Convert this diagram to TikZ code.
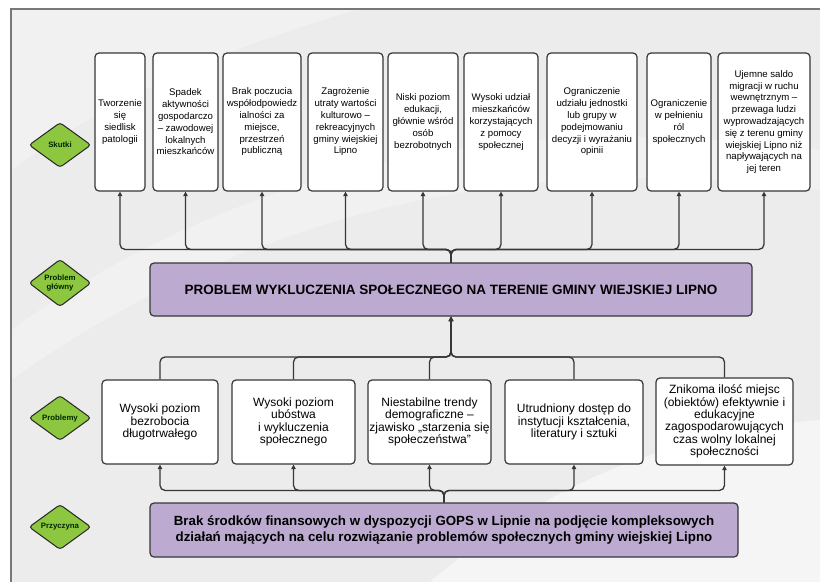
\documentclass[tikz,border=0pt]{standalone}
\usepackage{fontspec}
\setmainfont{Liberation Sans}
\usetikzlibrary{shapes.geometric,arrows.meta}
\definecolor{lilac}{RGB}{188,170,208}
\definecolor{leaf}{RGB}{141,198,63}
\definecolor{edgegray}{RGB}{55,55,55}
\definecolor{bggray}{RGB}{236,236,236}
\definecolor{framegray}{RGB}{120,120,120}
\begin{document}
\begin{tikzpicture}[x=1pt,y=-1pt,
  effect/.style={draw=edgegray,fill=white,line width=1.2pt,rounded corners=4pt,inner sep=0pt,
    minimum height=138pt,align=center,font=\fontsize{9.6}{11.8}\selectfont},
  problembox/.style={effect,minimum height=84pt,font=\fontsize{12}{12.3}\selectfont},
  mainbox/.style={draw=edgegray,fill=lilac,line width=1.2pt,rounded corners=4pt,inner sep=0pt,
    align=center,font=\bfseries\fontsize{13.5}{15.5}\selectfont},
  levelmark/.style={diamond,draw=black!85,fill=leaf,line width=1pt,rounded corners=3pt,inner sep=0pt,
    minimum width=62pt,minimum height=45pt,align=center,text=black!85!green,
    font=\bfseries\fontsize{7.8}{8.8}\selectfont},
  conn/.style={draw=edgegray,line width=1.3pt,rounded corners=5pt,-{Triangle[length=4.5pt,width=4.5pt]}}
]
\useasboundingbox (0,0) rectangle (820,582);
% background and frame
\fill[bggray] (11,9) rectangle (820,582);
\fill[white,opacity=.3] (11,330) .. controls (250,160) and (520,110) .. (820,150) -- (820,190) .. controls (520,150) and (250,210) .. (11,380) -- cycle;
\fill[white,opacity=.5] (430,582) .. controls (560,470) and (700,430) .. (820,420) -- (820,582) -- cycle;
\fill[white,opacity=.3] (11,9) -- (360,9) .. controls (250,40) and (120,90) .. (11,170) -- cycle;
\draw[framegray,line width=2pt] (820,9) -- (11,9) -- (11,582);

% level marks
\node[levelmark] (tagS) at (60,145) {Skutki};
\node[levelmark] (tagM) at (60,283) {Problem\\główny};
\node[levelmark] (tagP) at (60,418) {Problemy};
\node[levelmark] (tagC) at (60,527) {Przyczyna};

% skutki
\node[effect,minimum width=50pt] (s1) at (120,122) {Tworzenie\\się\\siedlisk\\patologii};
\node[effect,minimum width=65pt] (s2) at (185.5,122) {Spadek\\aktywności\\gospodarczo\\– zawodowej\\lokalnych\\mieszkańców};
\node[effect,minimum width=78pt] (s3) at (262,122) {Brak poczucia\\współodpowiedz\\ialności za\\miejsce,\\przestrzeń\\publiczną};
\node[effect,minimum width=75pt] (s4) at (345.5,122) {Zagrożenie\\utraty wartości\\kulturowo –\\rekreacyjnych\\gminy wiejskiej\\Lipno};
\node[effect,minimum width=70pt] (s5) at (423,122) {Niski poziom\\edukacji,\\głównie wśród\\osób\\bezrobotnych};
\node[effect,minimum width=74pt] (s6) at (501,122) {Wysoki udział\\mieszkańców\\korzystających\\z pomocy\\społecznej};
\node[effect,minimum width=90pt] (s7) at (592,122) {Ograniczenie\\udziału jednostki\\lub grupy w\\podejmowaniu\\decyzji i wyrażaniu\\opinii};
\node[effect,minimum width=64pt] (s8) at (679,122) {Ograniczenie\\w pełnieniu\\ról\\społecznych};
\node[effect,minimum width=92pt] (s9) at (764,122) {Ujemne saldo\\migracji w ruchu\\wewnętrznym –\\przewaga ludzi\\wyprowadzających\\się z terenu gminy\\wiejskiej Lipno niż\\napływających na\\jej teren};

% problem glowny
\node[mainbox,minimum width=602pt,minimum height=53pt] (main) at (451,289.5) {PROBLEM WYKLUCZENIA SPOŁECZNEGO NA TERENIE GMINY WIEJSKIEJ LIPNO};

% problemy
\node[problembox,minimum width=116pt] (p1) at (160,422) {Wysoki poziom\\bezrobocia\\długotrwałego};
\node[problembox,minimum width=123pt] (p2) at (293.5,422) {Wysoki poziom\\ubóstwa\\i wykluczenia\\społecznego};
\node[problembox,minimum width=123pt] (p3) at (429.5,422) {Niestabilne trendy\\demograficzne –\\zjawisko „starzenia się\\społeczeństwa”};
\node[problembox,minimum width=138pt] (p4) at (574,422) {Utrudniony dostęp do\\instytucji kształcenia,\\literatury i sztuki};
\node[problembox,minimum width=137pt,minimum height=87pt] (p5) at (724.5,421.5) {Znikoma ilość miejsc\\(obiektów) efektywnie i\\edukacyjne\\zagospodarowujących\\czas wolny lokalnej\\społeczności};

% przyczyna
\node[mainbox,minimum width=588pt,minimum height=54pt,font=\bfseries\fontsize{13.3}{15.5}\selectfont] (cause) at (444,530) {Brak środków finansowych w dyspozycji GOPS w Lipnie na podjęcie kompleksowych\\działań mających na celu rozwiązanie problemów społecznych gminy wiejskiej Lipno};

% connectors
\coordinate (busP) at (451,357);
\foreach \s in {s1,s2,s3,s4,s5,s6,s7,s8,s9}
  \draw[conn] (main.north) -- ++(0,-13) -| (\s.south);
\foreach \p in {p1,p2,p3,p4,p5}
  \draw[conn] (\p.north) |- (busP) -- (main.south);
\foreach \p in {p1,p2,p3,p4,p5}
  \draw[conn] (cause.north) -- ++(0,-12) -| (\p.south);
\end{tikzpicture}
\end{document}
